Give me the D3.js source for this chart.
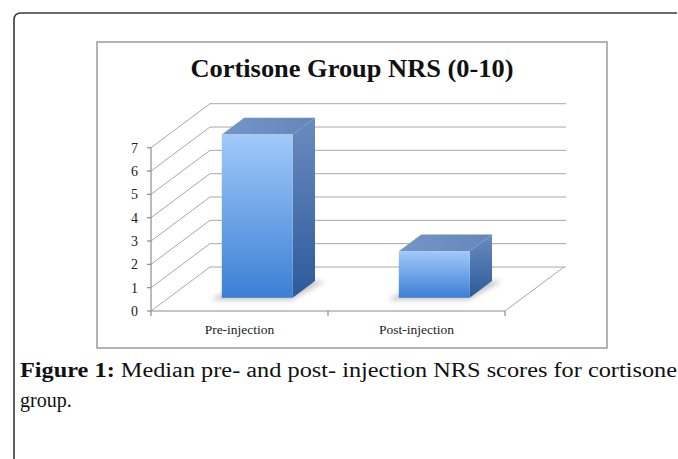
<!DOCTYPE html>
<html><head><meta charset="utf-8">
<script src="https://cdn.jsdelivr.net/npm/d3@7/dist/d3.min.js"></script>
<style>html,body{margin:0;padding:0;background:#fff;}svg{display:block;}</style>
</head><body>
<svg id="c" width="678" height="459"></svg>
<script>
const categories = ["Pre-injection", "Post-injection"];
const values = [7, 2];
const yTicks = [0, 1, 2, 3, 4, 5, 6, 7];
const title = "Cortisone Group NRS (0-10)";
const captionBold = "Figure 1:";
const captionLine1 = " Median pre- and post- injection NRS scores for cortisone";
const captionLine2 = "group.";

const SERIF = "'Liberation Serif', 'Times New Roman', serif";
const svg = d3.select("#c");
const defs = svg.append("defs");

// outer frame (top + left with rounded corner)
svg.append("path")
  .attr("d", "M14,459 L14,20 Q14,13 21,13 L677,13")
  .attr("fill", "none").attr("stroke", "#3a3a3a").attr("stroke-width", 1.6);

// chart box
svg.append("rect").attr("x", 97).attr("y", 42).attr("width", 510).attr("height", 306)
  .attr("fill", "#fff").attr("stroke", "#9a9a9a").attr("stroke-width", 1.5);

// title
svg.append("text").attr("x", 352).attr("y", 77).attr("text-anchor", "middle")
  .attr("font-family", SERIF).attr("font-weight", "bold")
  .attr("font-size", 26).attr("fill", "#111").text(title)
  .attr("textLength", 323).attr("lengthAdjust", "spacingAndGlyphs");

// 3D geometry
const x0 = 151, x1 = 505, y0 = 311;
const DX = 59, DY = -44;
const x = d3.scaleBand().domain(categories).range([x0, x1]).padding(0);
const y = d3.scaleLinear().domain([0, 7]).range([0, 163.3]);
const P = (xf, v, d) => [xf + d * DX, y0 + d * DY - y(v)];
const line = d3.line();

const grid = svg.append("g").attr("stroke", "#a8a8a8").attr("stroke-width", 1).attr("fill", "none");
yTicks.forEach(v => {
  grid.append("path").attr("d", line([P(x0, v, 0), P(x0, v, 1)]));
  grid.append("path").attr("d", line([P(x0, v, 1), P(x1 + 2, v, 1)]));
});
grid.append("path").attr("d", line([P(x1, 0, 0), P(x1, 0, 1)]));

// axes
const ax = svg.append("g").attr("stroke", "#8c8c8c").attr("stroke-width", 1.2).attr("fill", "none");
ax.append("path").attr("d", line([P(x0, 0, 0), P(x0, 7, 0)]));
ax.append("path").attr("d", line([P(x0, 0, 0), P(x1, 0, 0)]));
yTicks.forEach(v => {
  const p = P(x0, v, 0);
  ax.append("path").attr("d", line([[p[0] - 4, p[1]], p]));
});
[x0, x0 + x.bandwidth(), x1].forEach(xx => {
  ax.append("path").attr("d", line([[xx, y0], [xx, y0 + 5]]));
});

// y tick labels
svg.append("g").selectAll("text").data(yTicks).join("text")
  .attr("x", 138).attr("y", d => P(x0, d, 0)[1] + 5)
  .attr("text-anchor", "end").attr("font-family", SERIF)
  .attr("font-size", 14).attr("fill", "#222").text(d => d);

// category labels
svg.append("g").selectAll("text").data(categories).join("text")
  .attr("x", d => x(d) + x.bandwidth() / 2).attr("y", 334)
  .attr("text-anchor", "middle").attr("font-family", SERIF)
  .attr("font-size", 13.5).attr("fill", "#222").text(d => d);

// gradients
const gFront = defs.append("linearGradient").attr("id", "gf").attr("x1", 0).attr("y1", 0).attr("x2", 0).attr("y2", 1);
gFront.append("stop").attr("offset", 0).attr("stop-color", "#a2c9fb");
gFront.append("stop").attr("offset", 1).attr("stop-color", "#3b7fd4");
const gSide = defs.append("linearGradient").attr("id", "gs").attr("x1", 0).attr("y1", 0).attr("x2", 0).attr("y2", 1);
gSide.append("stop").attr("offset", 0).attr("stop-color", "#6a8cc0");
gSide.append("stop").attr("offset", 1).attr("stop-color", "#2c5a9a");
const gTop = defs.append("linearGradient").attr("id", "gt").attr("x1", 0).attr("y1", 0).attr("x2", 1).attr("y2", 0);
gTop.append("stop").attr("offset", 0).attr("stop-color", "#7395c8");
gTop.append("stop").attr("offset", 1).attr("stop-color", "#6586b9");
defs.append("filter").attr("id", "blur").attr("x", "-50%").attr("y", "-50%").attr("width", "200%").attr("height", "200%")
  .append("feGaussianBlur").attr("stdDeviation", 2.5);

const dA = 0.3, dB = 0.68, bw = 0.4;
const bars = svg.append("g");
categories.forEach((c, i) => {
  const v = values[i];
  const cx = x(c) + x.bandwidth() / 2;
  const L = cx - x.bandwidth() * bw / 2, R = cx + x.bandwidth() * bw / 2;
  const g = bars.append("g");
  g.append("path").attr("d", line([P(L - 8, 0, dA - 0.05), P(R + 2, 0, dA - 0.05), P(R + 10, 0, dB), P(L, 0, dB)]) + "Z")
    .attr("fill", "#9a9a9a").attr("opacity", 0.55).attr("filter", "url(#blur)");
  g.append("path").attr("d", line([P(R, 0, dA), P(R, 0, dB), P(R, v, dB), P(R, v, dA)]) + "Z")
    .attr("fill", "url(#gs)");
  g.append("path").attr("d", line([P(L, v, dA), P(R, v, dA), P(R, v, dB), P(L, v, dB)]) + "Z")
    .attr("fill", "url(#gt)");
  const a = P(L, v, dA), b = P(R, 0, dA);
  g.append("rect").attr("x", a[0]).attr("y", a[1]).attr("width", b[0] - a[0]).attr("height", b[1] - a[1])
    .attr("fill", "url(#gf)");
});

// caption
const cap = svg.append("text").attr("x", 20).attr("y", 377)
  .attr("font-family", SERIF).attr("font-size", 20).attr("fill", "#111")
  .attr("textLength", 657).attr("lengthAdjust", "spacingAndGlyphs");
cap.append("tspan").attr("font-weight", "bold").text(captionBold);
cap.append("tspan").text(captionLine1);
svg.append("text").attr("x", 20).attr("y", 407)
  .attr("font-family", SERIF).attr("font-size", 20).attr("fill", "#111")
  .text(captionLine2);
</script>
</body></html>
